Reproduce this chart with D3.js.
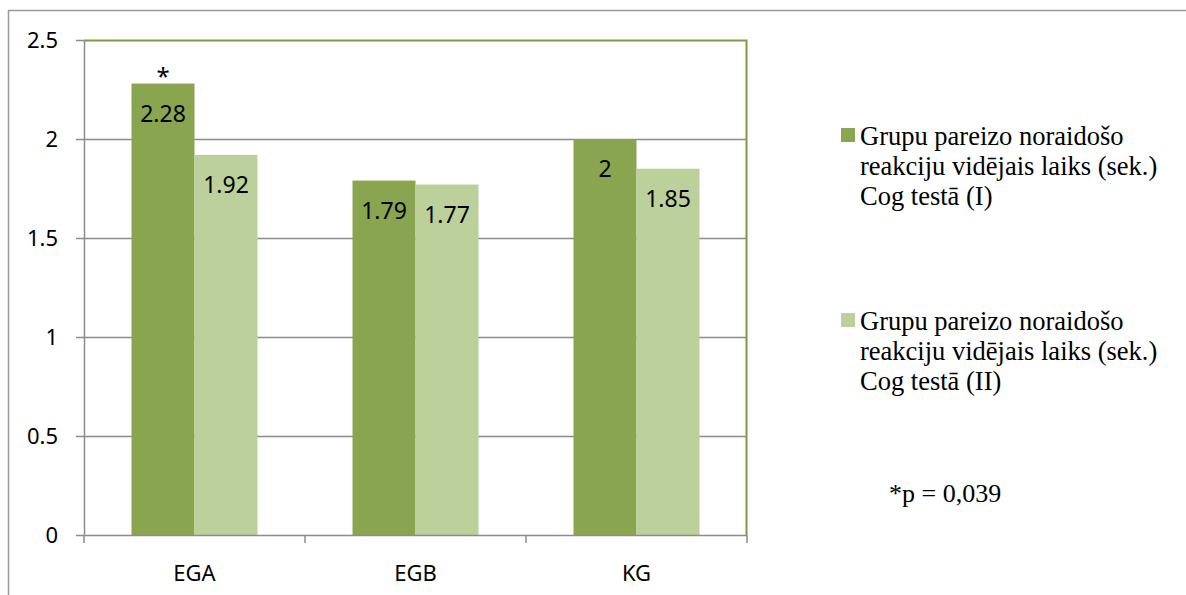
<!DOCTYPE html>
<html><head><meta charset="utf-8">
<script src="https://cdn.jsdelivr.net/npm/d3@7"></script>
<style>body{margin:0;background:#fff}svg{display:block}</style>
</head><body>
<svg id="c" width="1186" height="595"></svg>
<script>
const categories = ["EGA", "EGB", "KG"];
const seriesNames = [
  ["Grupu pareizo noraidošo", "reakciju vidējais laiks (sek.)", "Cog testā (I)"],
  ["Grupu pareizo noraidošo", "reakciju vidējais laiks (sek.)", "Cog testā (II)"]
];
const seriesI = [2.28, 1.79, 2];
const seriesII = [1.92, 1.77, 1.85];
const labelsI = ["2.28", "1.79", "2"];
const labelsII = ["1.92", "1.77", "1.85"];
const yTicks = [0, 0.5, 1, 1.5, 2, 2.5];
const starMarks = ["*", "", ""];
const note = "*p = 0,039";
const colors = ["#8aa54f", "#bbd09a"];

const svg = d3.select("#c");
const m = {l: 84, r: 747, t: 40, b: 535};
const sans = "'Noto Sans', 'Open Sans', sans-serif";
const serif = "'Liberation Serif', 'DejaVu Serif', serif";

// outer frame
svg.append("line").attr("x1", 8).attr("x2", 1186).attr("y1", 10.5).attr("y2", 10.5).attr("stroke", "#999").attr("stroke-width", 1.5);
svg.append("line").attr("x1", 8.5).attr("x2", 8.5).attr("y1", 10).attr("y2", 595).attr("stroke", "#999").attr("stroke-width", 1.5);

const x = d3.scaleBand().domain(categories).range([m.l, m.r]);
const y = d3.scaleLinear().domain([0, 2.5]).range([m.b, m.t]);
const barW = 63;

// gridlines
svg.append("g").selectAll("line").data(yTicks.filter(d => d > 0 && d < 2.5)).join("line")
  .attr("x1", m.l).attr("x2", m.r).attr("y1", d => Math.round(y(d)) + 0.5).attr("y2", d => Math.round(y(d)) + 0.5)
  .attr("stroke", "#8c8c8c").attr("stroke-width", 1.5);

// plot border top/right green
svg.append("path").attr("d", `M${m.l},${m.t + 0.5}H${m.r - 0.5}V${m.b}`).attr("fill", "none").attr("stroke", "#7f9a47").attr("stroke-width", 2);

// bars
const g = svg.append("g");
categories.forEach((c, i) => {
  const cx = x(c) + x.bandwidth() / 2;
  [seriesI[i], seriesII[i]].forEach((v, s) => {
    const bx = s === 0 ? cx - barW : cx;
    g.append("rect").attr("x", bx).attr("y", y(v)).attr("width", barW).attr("height", y(0) - y(v)).attr("fill", colors[s]);
    g.append("text").attr("x", bx + barW / 2).attr("y", y(v) + 38).attr("text-anchor", "middle")
      .attr("font-family", sans).attr("font-size", 23).attr("fill", "#000").text(s === 0 ? labelsI[i] : labelsII[i]);
  });
  if (starMarks[i]) {
    g.append("text").attr("x", cx - barW / 2).attr("y", y(seriesI[i]) + 1).attr("text-anchor", "middle")
      .attr("font-family", sans).attr("font-size", 24).text(starMarks[i]);
  }
});

// y axis
const ya = svg.append("g").attr("transform", `translate(${m.l},0)`)
  .call(d3.axisLeft(y).tickValues(yTicks).tickFormat(d => String(d)).tickSize(8).tickPadding(18));
ya.select(".domain").attr("stroke", "#8c8c8c").attr("stroke-width", 1.5).attr("d", `M0.5,${m.t}V${m.b}`);
ya.selectAll(".tick line").attr("stroke", "#8c8c8c").attr("stroke-width", 1.5);
ya.selectAll(".tick text").attr("font-family", sans).attr("font-size", 22).attr("fill", "#000").attr("dy", "0.35em");

// x axis
const xa = svg.append("g").attr("transform", `translate(0,${m.b})`)
  .call(d3.axisBottom(x).tickSize(0).tickPadding(30));
xa.select(".domain").attr("stroke", "#8c8c8c").attr("stroke-width", 1.5).attr("d", `M${m.l},0.5H${m.r}`);
xa.selectAll(".tick text").attr("font-family", sans).attr("font-size", 22).attr("fill", "#000");
const bounds = categories.map(c => x(c)).concat([m.r]);
svg.append("g").selectAll("line").data(bounds).join("line")
  .attr("x1", d => d).attr("x2", d => d).attr("y1", m.b).attr("y2", m.b + 8)
  .attr("stroke", "#8c8c8c").attr("stroke-width", 1.5);

// legend
const lg = svg.append("g");
[128, 313].forEach((ty, s) => {
  lg.append("rect").attr("x", 841).attr("y", ty).attr("width", 14).attr("height", 14).attr("fill", colors[s]);
  const t = lg.append("text").attr("font-family", serif).attr("font-size", 26.5).attr("fill", "#000");
  seriesNames[s].forEach((line, k) => {
    t.append("tspan").attr("x", 860).attr("y", ty + 17 + k * 30).text(line);
  });
});
svg.append("text").attr("x", 889).attr("y", 502).attr("font-family", serif).attr("font-size", 26).text(note);
</script>
</body></html>
